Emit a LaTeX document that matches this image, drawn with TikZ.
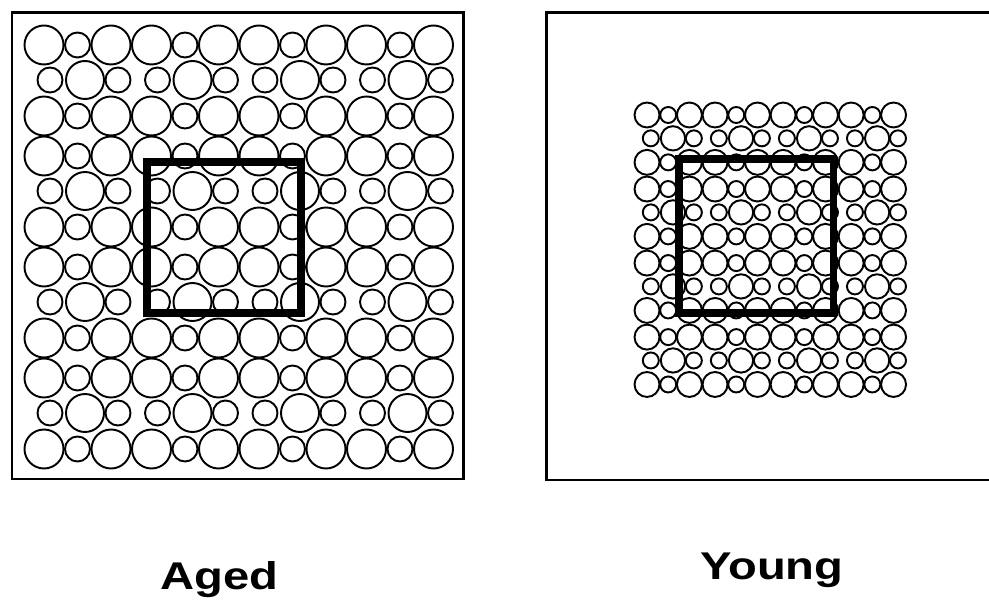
\documentclass[tikz,border=0pt]{standalone}
\usepackage{fontspec}
\setmainfont{Liberation Sans}
\usetikzlibrary{positioning}

% one packing of cells: origin x, origin y, x step scale, y step scale, radius scale
\newcommand{\cellpack}[5]{%
  \foreach \bi in {0,...,3}{
    \foreach \bj in {0,...,3}{
      \foreach \dx/\dy/\rr in {0/0/19.5, 33.5/0/12.5, 67/0/19.5,
                              6/35/12.5, 41/35/19, 74/35/12.5,
                              0/71/19.5, 33.5/71/12.5, 67/71/19.5}{
        \draw[cell] ({#1+(\bi*107.5+\dx)*#3},{#2+(\bj*111+\dy)*#4}) circle ({\rr*#5});
      }
    }
  }%
}

\begin{document}
\begin{tikzpicture}[
  x=0.02cm, y=-0.02cm,
  cell/.style={draw=black, line width=1.1pt},
  frame/.style={draw=black, line width=1.7pt},
  window/.style={draw=black, line width=4pt},
  lbl/.style={font=\fontsize{22}{26}\selectfont\bfseries, inner sep=0pt}
]
\useasboundingbox (0,0) rectangle (989,607);

% aged
\draw[frame] (12,13) rectangle (463,479);
\cellpack{44}{45}{1}{1}{1}
\draw[window] (147,162) rectangle (301,313);

% young
\draw[frame] (989,13) -- (546,13) -- (546,480) -- (989,480);
\cellpack{647}{115}{0.633}{0.667}{0.64}
\draw[window] (679,159) rectangle (833,313);

\node[lbl, anchor=base west] (aged) at (160,589) {\scalebox{1.22}[1]{Aged}};
\node[lbl, anchor=base west] (young) at (700,579) {\scalebox{1.22}[1]{Young}};
\end{tikzpicture}
\end{document}
